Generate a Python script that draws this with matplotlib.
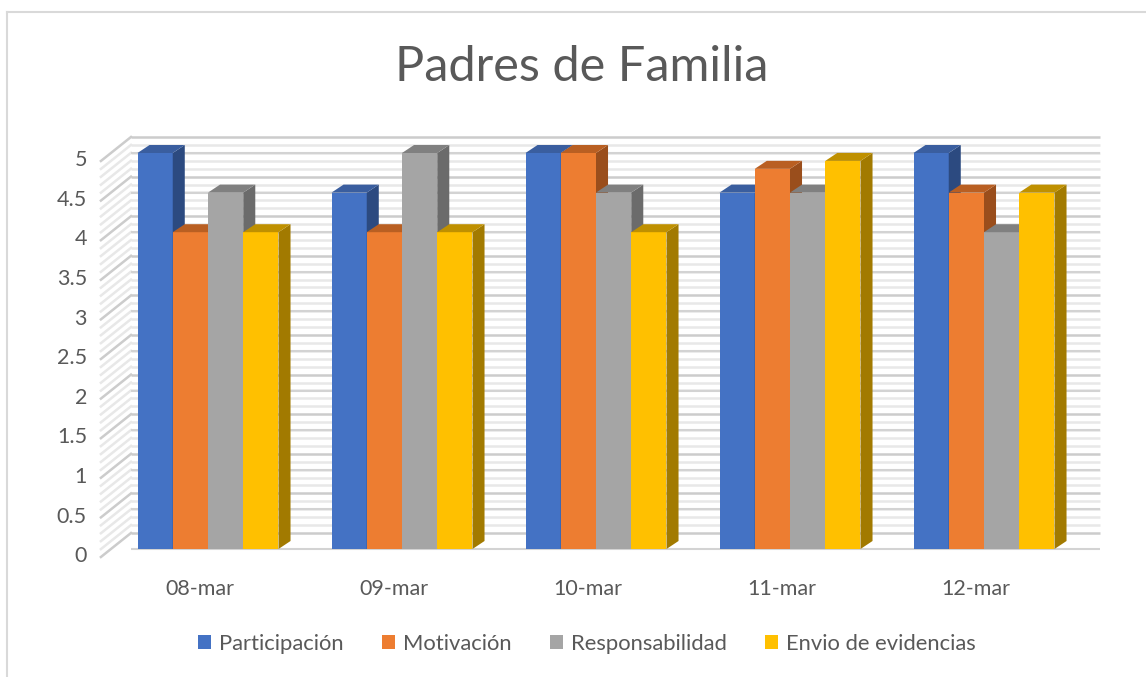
import matplotlib
matplotlib.use("Agg")
import numpy as np
import matplotlib.pyplot as plt
from matplotlib.patches import Polygon, Patch
from matplotlib.lines import Line2D

plt.rcParams['font.family'] = ['Lato', 'DejaVu Sans']

fechas = ["08-mar", "09-mar", "10-mar", "11-mar", "12-mar"]
series = ["Participación", "Motivación", "Responsabilidad", "Envio de evidencias"]
participacion = [5, 4.5, 5, 4.5, 5]
motivacion = [4, 4, 5, 4.8, 4.5]
responsabilidad = [4.5, 5, 4.5, 4.5, 4]
evidencias = [4, 4, 4, 4.9, 4.5]
yticks = [0, 0.5, 1, 1.5, 2, 2.5, 3, 3.5, 4, 4.5, 5]

valores = [participacion, motivacion, responsabilidad, evidencias]
frente = ["#4472C4", "#ED7D31", "#A5A5A5", "#FFC000"]
tapa = ["#3A5E9F", "#B95F22", "#808080", "#BF9000"]
lado = ["#2C4A80", "#9A4E1C", "#6B6B6B", "#A27A00"]
texto = "#595959"

fig = plt.figure(figsize=(11.46, 6.77), dpi=100)
ax = fig.add_axes([111 / 1146, 128 / 677, 970 / 1146, 396 / 677])
ax.set_xlim(-0.5, 4.5)
ax.set_ylim(0, 5)
ax.axis("off")

# profundidad 3D en unidades de datos
w = 0.1817
bdx, bdy = 0.062, 0.101       # profundidad de las barras
wx0, wy0 = -0.052, -0.101     # borde frontal del suelo
wx1, wy1 = 0.103, 0.202       # pared del fondo
xr = 4.598

# pared del fondo y pared izquierda
niveles = np.arange(0, 5.001, 0.1)
for k, v in enumerate(niveles):
    mayor = abs(v * 2 - round(v * 2)) < 1e-6
    c = "#cccccc" if mayor else "#e8e8e8"
    ax.plot([-0.5 + wx1, xr], [v + wy1, v + wy1], color=c, lw=1.8, zorder=1, clip_on=False,
            solid_capstyle="butt")
    ax.plot([-0.5 + wx0, -0.5 + wx1], [v + wy0, v + wy1], color=c, lw=1.8, zorder=1,
            clip_on=False)
for v in yticks:
    ax.plot([-0.5 + wx1, xr], [v, v], color="#d3d3d3", lw=1.5, zorder=1.1, clip_on=False,
            solid_capstyle="butt")

# barras 3D
for i in range(len(fechas)):
    for j in range(len(series)):
        v = valores[j][i]
        x0 = i - 2 * w + j * w
        x1 = x0 + w
        ax.add_patch(Polygon([(x0, 0), (x1, 0), (x1, v), (x0, v)], closed=True,
                             facecolor=frente[j], edgecolor="none", zorder=3, clip_on=False))
        ax.add_patch(Polygon([(x1, 0), (x1 + bdx, bdy), (x1 + bdx, v + bdy), (x1, v)],
                             closed=True, facecolor=lado[j], edgecolor="none", zorder=3,
                             clip_on=False))
        ax.add_patch(Polygon([(x0, v), (x1, v), (x1 + bdx, v + bdy), (x0 + bdx, v + bdy)],
                             closed=True, facecolor=tapa[j], edgecolor="none", zorder=3,
                             clip_on=False))

# etiquetas
for v in yticks:
    ax.text(-0.624, v - 0.09, f"{v:g}", ha="right", va="center", fontsize=15.5,
            color=texto, clip_on=False)
for i, f in enumerate(fechas):
    ax.text(i - 0.04, -0.5, f, ha="center", va="center", fontsize=15.5, color=texto,
            clip_on=False)

fig.text(582 / 1146, 1 - 67 / 677, "Padres de Familia", ha="center", va="center",
         fontsize=35, color=texto)

handles = [Patch(facecolor=frente[j], edgecolor="none", label=series[j]) for j in range(4)]
fig.legend(handles=handles, loc="center", bbox_to_anchor=(587 / 1146, 1 - 644 / 677),
           ncol=4, frameon=False, fontsize=15.8, handlelength=0.6, handleheight=0.6,
           handletextpad=0.35, columnspacing=1.75, labelcolor=texto)

# borde del área del gráfico
fig.add_artist(Line2D([7 / 1146, 7 / 1146], [0, 1 - 12 / 677], color="#d9d9d9", lw=1.5,
                      transform=fig.transFigure))
fig.add_artist(Line2D([7 / 1146, 1], [1 - 12 / 677, 1 - 12 / 677], color="#d9d9d9", lw=1.5,
                      transform=fig.transFigure))

fig.savefig("out.png", dpi=100)
